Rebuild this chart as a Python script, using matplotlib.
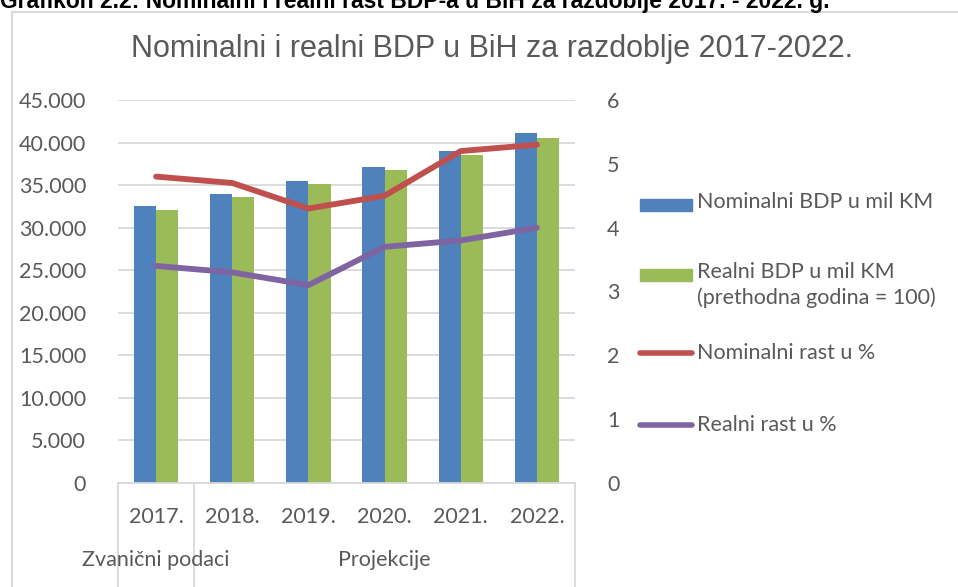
import matplotlib
matplotlib.use("Agg")
import matplotlib.pyplot as plt
import matplotlib.patches as patches
import matplotlib.transforms as mtransforms
from matplotlib.lines import Line2D
from matplotlib.ticker import FuncFormatter
import numpy as np

# data
years = ["2017.", "2018.", "2019.", "2020.", "2021.", "2022."]
groups = ["Zvanični podaci", "Projekcije"]
group_sizes = [1, 5]
nominal_bdp = [32500, 34000, 35500, 37100, 39000, 41100]
real_bdp = [32100, 33600, 35100, 36800, 38500, 40500]
nominal_growth = [4.8, 4.7, 4.3, 4.5, 5.2, 5.3]
real_growth = [3.4, 3.3, 3.1, 3.7, 3.8, 4.0]

header = "Grafikon 2.2: Nominalni i realni rast BDP-a u BiH za razdoblje 2017. - 2022. g."
title = "Nominalni i realni BDP u BiH za razdoblje 2017-2022."
labels = ["Nominalni BDP u mil KM", "Realni BDP u mil KM\n(prethodna godina = 100)",
          "Nominalni rast u %", "Realni rast u %"]

BLUE = "#4F81BD"
GREEN = "#9BBB59"
RED = "#C0504D"
PURPLE = "#8064A2"
TXT = "#595959"
GRID = "#D9D9D9"
FONT = ["Lato", "DejaVu Sans"]
FS = 15.5

W, H = 958, 587
fig = plt.figure(figsize=(W / 100, H / 100), dpi=100)

def fx(px):
    return px / W

def fy(py):
    return 1 - py / H

# chart area frame
frame = patches.Rectangle((fx(12), fy(592)), fx(962) - fx(12), fy(12) - fy(592),
                          transform=fig.transFigure, facecolor="white",
                          edgecolor=GRID, linewidth=1.5, zorder=-5)
fig.add_artist(frame)

# header, cut at the top edge as in the source document
fig.text(0.0, fy(8), header, fontsize=16.5, fontweight="bold",
         family=["Liberation Sans"], ha="left", va="baseline", color="black")

fig.text(fx(492), fy(49), title, fontsize=22, family=["Liberation Sans"],
         color=TXT, ha="center", va="center")

ax = fig.add_axes([fx(118), fy(483), fx(575) - fx(118), fy(100) - fy(483)])
ax.set_facecolor("none")
x = np.arange(len(years))
bw = 0.29
ax.bar(x - bw / 2, nominal_bdp, bw, color=BLUE, zorder=2)
ax.bar(x + bw / 2, real_bdp, bw, color=GREEN, zorder=2)
ax.set_ylim(0, 45000)
ax.set_xlim(-0.5, len(years) - 0.5)
ax.set_yticks(np.arange(0, 45001, 5000))
ax.yaxis.set_major_formatter(FuncFormatter(lambda v, p: "0" if v == 0 else f"{int(v):,}".replace(",", ".")))
ax.grid(axis="y", color=GRID, linewidth=1.3, zorder=0)
for s in ["top", "right", "left"]:
    ax.spines[s].set_visible(False)
ax.spines["bottom"].set_color(GRID)
ax.spines["bottom"].set_linewidth(1.3)
ax.tick_params(axis="y", length=0, pad=23, labelsize=FS, labelcolor=TXT)
ax.tick_params(axis="x", length=0, pad=17, labelsize=FS, labelcolor=TXT)
ax.set_xticks(x)
ax.set_xticklabels(years)
for t in ax.get_xticklabels() + ax.get_yticklabels():
    t.set_family(FONT)

# multi-level category axis
trans = mtransforms.blended_transform_factory(ax.transData, ax.transAxes)
edges = np.concatenate([[0], np.cumsum(group_sizes)]) - 0.5
for e in edges:
    ax.plot([e, e], [0, -0.3], transform=trans, color=GRID, linewidth=1.3, clip_on=False)
for g, a, b in zip(groups, edges[:-1], edges[1:]):
    ax.text((a + b) / 2, -0.2, g, transform=trans, ha="center", va="center",
            fontsize=FS, color=TXT, family=FONT)

ax2 = ax.twinx()
ax2.plot(x, nominal_growth, color=RED, linewidth=4.2, solid_capstyle="round", zorder=3)
ax2.plot(x, real_growth, color=PURPLE, linewidth=4.2, solid_capstyle="round", zorder=3)
ax2.set_ylim(0, 6)
ax2.set_yticks(range(0, 7))
for s in ["top", "right", "left", "bottom"]:
    ax2.spines[s].set_visible(False)
ax2.tick_params(axis="y", length=0, pad=23, labelsize=FS, labelcolor=TXT)
for t in ax2.get_yticklabels():
    t.set_family(FONT)

# legend drawn in figure coordinates
rows = [205, 275, 353, 425]
for i, (lab, yy) in enumerate(zip(labels, rows)):
    if i < 2:
        fig.add_artist(patches.Rectangle((fx(640), fy(yy + 6)), fx(692) - fx(640),
                                         fy(yy - 6) - fy(yy + 6),
                                         transform=fig.transFigure, color=[BLUE, GREEN][i]))
        fig.text(fx(697), fy(yy - 13), lab, fontsize=FS, color=TXT, family=FONT,
                 ha="left", va="top", linespacing=1.3)
    else:
        fig.add_artist(Line2D([fx(640), fx(692)], [fy(yy), fy(yy)], transform=fig.transFigure,
                              color=[RED, PURPLE][i - 2], linewidth=4, solid_capstyle="round"))
        fig.text(fx(697), fy(yy), lab, fontsize=FS, color=TXT, family=FONT,
                 ha="left", va="center")

fig.savefig("out.png", dpi=100)
